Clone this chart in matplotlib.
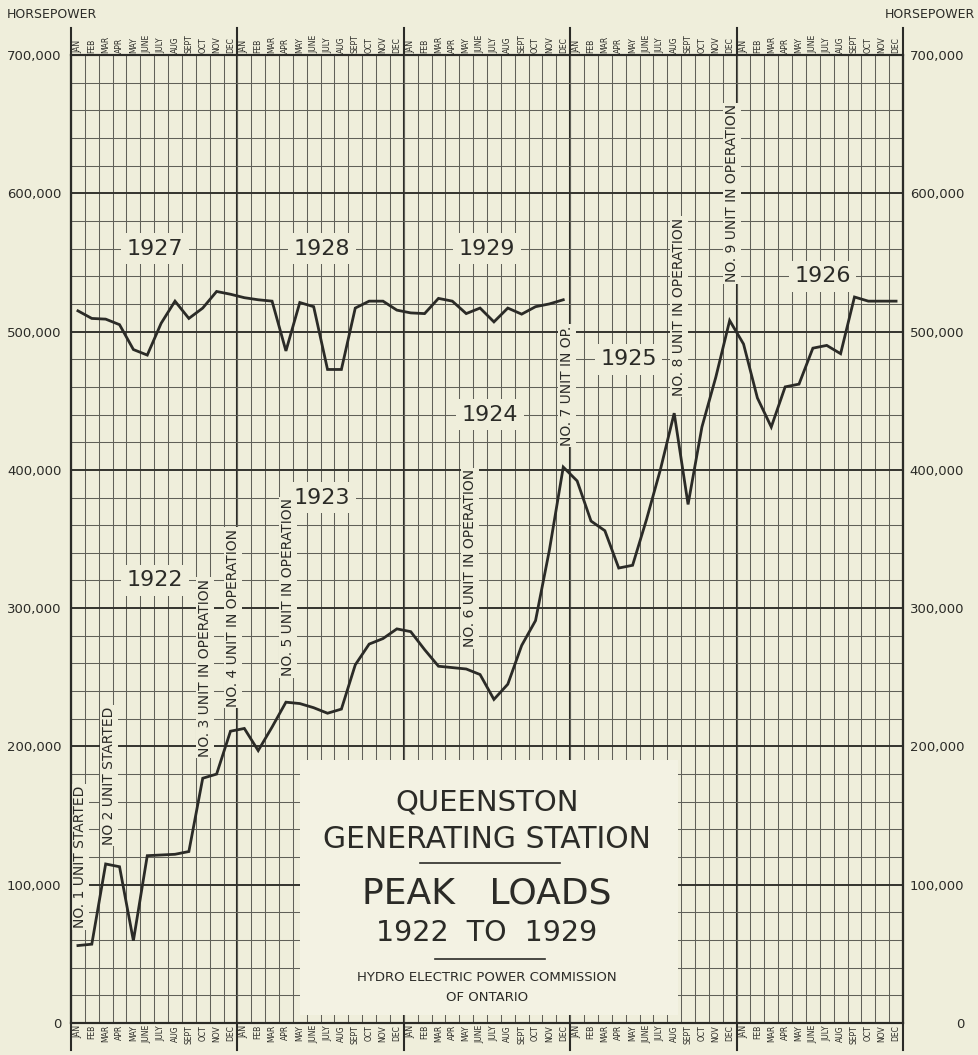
import matplotlib
matplotlib.use("Agg")
import matplotlib.pyplot as plt
from matplotlib.ticker import MultipleLocator, FuncFormatter
from matplotlib.patches import Rectangle

BG = "#efeedb"
INK = "#2b2b27"

months = ["JAN", "FEB", "MAR", "APR", "MAY", "JUNE", "JULY", "AUG", "SEPT", "OCT", "NOV", "DEC"]
n_years = 5

# peak load, horsepower, Jan 1922 .. Dec 1926
load_1922_1926 = [
    56000, 57000, 115000, 113000, 59500, 121000, 121500, 122000, 124000, 177000, 180000, 211000,
    213000, 197000, 214000, 232000, 231000, 228000, 224000, 227000, 259000, 274000, 278000, 285000,
    283000, 270000, 258000, 257000, 256000, 252000, 234000, 245000, 273000, 291000, 342000, 402000,
    392000, 363000, 356000, 329000, 331000, 364000, 400000, 441000, 375000, 431000, 467000, 508000,
    491000, 452000, 431000, 460000, 462000, 488000, 490000, 484000, 525000, 522000, 522000, 522000,
]
# peak load, horsepower, Jan 1927 .. Dec 1929
load_1927_1929 = [
    515000, 509500, 509000, 505000, 487000, 483000, 506000, 522000, 509500, 517000, 529000, 527000,
    524500, 523000, 522000, 486000, 521000, 518000, 472600, 472600, 517000, 522000, 522000, 515500,
    513500, 513000, 524000, 522000, 513000, 517000, 507000, 517000, 512600, 518000, 520000, 523000,
]

year_labels = ["1922", "1923", "1924", "1925", "1926", "1927", "1928", "1929"]
year_label_pos = [(6.06, 320000), (18.1, 380000), (30.2, 440000), (40.2, 480000),
                  (54.2, 540000), (6.06, 560000), (18.1, 560000), (30.0, 560000)]

unit_notes = ["NO. 1 UNIT STARTED", "NO 2 UNIT STARTED", "NO. 3 UNIT IN OPERATION",
              "NO. 4 UNIT IN OPERATION", "NO. 5 UNIT IN OPERATION", "NO. 6 UNIT IN OPERATION",
              "NO. 7 UNIT IN OP.", "NO. 8 UNIT IN OPERATION", "NO. 9 UNIT IN OPERATION"]
unit_note_pos = [(0.65, 120000), (2.74, 179000), (9.66, 257000), (11.68, 293000),
                 (15.65, 315000), (28.77, 336000), (35.76, 461000), (43.84, 518000),
                 (47.66, 600000)]

fig = plt.figure(figsize=(9.79, 10.55), dpi=100, facecolor=BG)
ax = fig.add_axes([71 / 979, 32 / 1055, 832 / 979, 968 / 1055])
ax.set_facecolor(BG)

n_months = 12 * n_years
ax.set_xlim(0, n_months)
ax.set_ylim(0, 700000)

# grid
ax.yaxis.set_major_locator(MultipleLocator(100000))
ax.yaxis.set_minor_locator(MultipleLocator(20000))
ax.xaxis.set_minor_locator(MultipleLocator(1))
ax.grid(which="minor", axis="both", color="#606058", lw=0.75, zorder=0)
ax.grid(which="major", axis="y", color="#33332e", lw=1.4, zorder=0)
ax.grid(which="major", axis="x", visible=False)

centers = [i + 0.5 for i in range(n_months)]
ax.set_xticks(centers, months * n_years)
ax.tick_params(axis="x", which="both", length=0, labeltop=True, labelbottom=True,
               labelsize=5.5, rotation=90, pad=1.5, colors=INK)

fmt = FuncFormatter(lambda v, p: "0" if v == 0 else f"{int(v):,}")
ax.yaxis.set_major_formatter(fmt)
ax.tick_params(axis="y", which="both", length=0, labelsize=9.5, pad=7, colors=INK)

ax2 = ax.twinx()
ax2.set_ylim(ax.get_ylim())
ax2.yaxis.set_major_locator(MultipleLocator(100000))
ax2.yaxis.set_major_formatter(fmt)
ax2.tick_params(axis="y", length=0, labelsize=9.5, pad=44, colors=INK)
for lab in ax2.get_yticklabels():
    lab.set_horizontalalignment("right")
for a in (ax, ax2):
    for s in a.spines.values():
        s.set_color(INK)
        s.set_linewidth(1.5)

# year boundaries run through the month label strips
tr = ax.get_xaxis_transform()
for b in range(0, n_months + 1, 12):
    ax.plot([b, b], [-0.028, 1.028], transform=tr, color=INK, lw=1.5, clip_on=False, zorder=1)

# peak load lines
ax.plot(centers, load_1922_1926, color=INK, lw=2.0, zorder=4, solid_joinstyle="miter")
ax.plot(centers[:len(load_1927_1929)], load_1927_1929, color=INK, lw=2.0, zorder=4,
        solid_joinstyle="miter")

box = dict(boxstyle="square,pad=0.25", fc=BG, ec="none")
for txt, (x, y) in zip(year_labels, year_label_pos):
    ax.text(x, y, txt, fontsize=16, ha="center", va="center", color=INK, zorder=5, bbox=box)
for txt, (x, y) in zip(unit_notes, unit_note_pos):
    ax.text(x, y, txt, fontsize=10, rotation=90, ha="center", va="center", color=INK,
            zorder=5, bbox=dict(boxstyle="square,pad=0.12", fc=BG, ec="none"))

# title panel
ax.add_patch(Rectangle((0.275, 0.008), 0.455, 0.264, transform=ax.transAxes,
                       fc="#f3f2e3", ec="none", zorder=3))
ax.text(0.50, 0.228, "QUEENSTON", transform=ax.transAxes, fontsize=21, ha="center",
        va="center", color=INK, zorder=5)
ax.text(0.50, 0.190, "GENERATING STATION", transform=ax.transAxes, fontsize=21.5,
        ha="center", va="center", color=INK, zorder=5)
ax.plot([0.420, 0.588], [0.165, 0.165], transform=ax.transAxes, color=INK, lw=1.2, zorder=5)
ax.text(0.50, 0.134, "PEAK   LOADS", transform=ax.transAxes, fontsize=26, ha="center",
        va="center", color=INK, zorder=5)
ax.text(0.50, 0.093, "1922  TO  1929", transform=ax.transAxes, fontsize=20.5, ha="center",
        va="center", color=INK, zorder=5)
ax.plot([0.437, 0.570], [0.066, 0.066], transform=ax.transAxes, color=INK, lw=1.2, zorder=5)
ax.text(0.50, 0.047, "HYDRO ELECTRIC POWER COMMISSION", transform=ax.transAxes,
        fontsize=9.5, ha="center", va="center", color=INK, zorder=5)
ax.text(0.50, 0.026, "OF ONTARIO", transform=ax.transAxes, fontsize=9.5, ha="center",
        va="center", color=INK, zorder=5)

fig.text(7 / 979, 1 - 15 / 1055, "HORSEPOWER", fontsize=9, ha="left", va="center", color=INK)
fig.text(975 / 979, 1 - 15 / 1055, "HORSEPOWER", fontsize=9, ha="right", va="center", color=INK)

fig.savefig("out.png", dpi=100, facecolor=BG)
